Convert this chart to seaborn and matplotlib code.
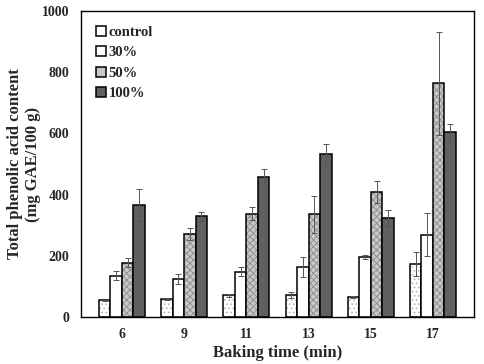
import pandas as pd
import seaborn as sns
import matplotlib.pyplot as plt
import numpy as np
from matplotlib.colors import to_rgba

# Data
times = ['6', '9', '11', '13', '15', '17']
groups = ['control', '30%', '50%', '100%']
control = [55, 60, 71, 72, 65, 174]
pct30 = [135, 124, 148, 164, 197, 269]
pct50 = [177, 272, 338, 335, 407, 763]
pct100 = [365, 329, 459, 534, 324, 606]
control_err = [2, 3, 4, 10, 3, 40]
pct30_err = [15, 15, 15, 32, 7, 70]
pct50_err = [15, 20, 20, 60, 36, 167]
pct100_err = [52, 14, 24, 32, 27, 26]

values = [control, pct30, pct50, pct100]
errors = [control_err, pct30_err, pct50_err, pct100_err]

df = pd.DataFrame({
    'time': np.tile(times, len(groups)),
    'group': np.repeat(groups, len(times)),
    'value': np.concatenate(values),
    'err': np.concatenate(errors),
})

sns.set_style('ticks')
plt.rcParams['font.family'] = ['Liberation Serif', 'DejaVu Serif']
plt.rcParams['font.weight'] = 'bold'
plt.rcParams['hatch.linewidth'] = 0.6

colors = ['white', 'white', '#c8c8c8', '#606060']
hatches = ['....', '', 'xxxxx', '']
hatch_cols = ['#b0b0b0', None, '#8a8a8a', None]

fig = plt.figure(figsize=(4.85, 3.64), dpi=100)
ax = fig.add_axes([0.167, 0.129, 0.81, 0.841])

sns.barplot(data=df, x='time', y='value', hue='group', order=times,
            hue_order=groups, palette=colors, width=0.74, gap=0,
            edgecolor='black', linewidth=1.1, errorbar=None, ax=ax)

# style bars per group and add error bars
bar_sets = list(ax.containers)
for i, cont in enumerate(bar_sets):
    for j, p in enumerate(cont.patches):
        if hatches[i]:
            p.set_hatch(hatches[i])
            p._hatch_color = to_rgba(hatch_cols[i])
        ax.errorbar(p.get_x() + p.get_width() / 2, values[i][j],
                    yerr=errors[i][j], fmt='none', ecolor='#555555',
                    elinewidth=0.7, capsize=2, capthick=0.7)

ax.set_ylim(0, 1000)
ax.set_yticks(range(0, 1001, 200))
ax.tick_params(length=0, labelsize=10)
ax.tick_params(axis='y', pad=8.5)
ax.tick_params(axis='x', pad=8)
for lab in ax.get_xticklabels() + ax.get_yticklabels():
    lab.set_fontweight('bold')
for s in ax.spines.values():
    s.set_linewidth(1.0)
    s.set_color('black')

ax.set_xlabel('Baking time (min)', fontsize=12, fontweight='bold', labelpad=3)
ax.set_ylabel('Total phenolic acid content\n(mg GAE/100 g)', fontsize=12,
              fontweight='bold', linespacing=1.2)
ax.yaxis.set_label_coords(-0.102, 0.5)

ax.legend(loc='upper left', frameon=False, handlelength=0.7,
          handleheight=0.7, handletextpad=0.2, labelspacing=0.5,
          borderaxespad=0.6, prop={'weight': 'bold', 'size': 10.5})

fig.savefig('out.png', dpi=100)
